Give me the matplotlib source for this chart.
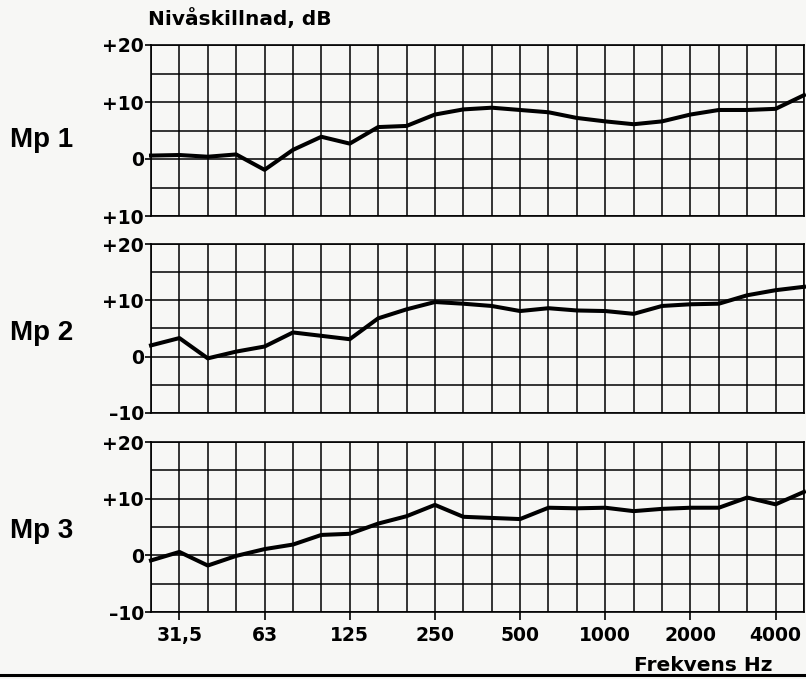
import matplotlib.pyplot as plt
import numpy as np

plt.rcParams['font.family'] = ['DejaVu Sans']
plt.rcParams['font.weight'] = 'bold'

# third-octave bands, 25 Hz .. 5 kHz
freqs = ['25', '31,5', '40', '50', '63', '80', '100', '125', '160', '200', '250', '315',
         '400', '500', '630', '800', '1000', '1250', '1600', '2000', '2500', '3150', '4000', '5000']
tick_labels = ['31,5', '63', '125', '250', '500', '1000', '2000', '4000']

mp1 = [0.6, 0.7, 0.4, 0.8, -1.9, 1.6, 3.9, 2.7, 5.6, 5.8, 7.8, 8.7,
       9.0, 8.6, 8.2, 7.2, 6.6, 6.1, 6.6, 7.8, 8.6, 8.6, 8.8, 11.2]
mp2 = [2.0, 3.3, -0.3, 0.9, 1.8, 4.3, 3.7, 3.1, 6.8, 8.4, 9.7, 9.4,
       9.0, 8.1, 8.6, 8.2, 8.1, 7.6, 9.0, 9.3, 9.4, 10.9, 11.8, 12.4]
mp3 = [-0.9, 0.6, -1.8, -0.1, 1.1, 1.9, 3.6, 3.8, 5.6, 6.9, 8.9, 6.8,
       6.6, 6.4, 8.4, 8.3, 8.4, 7.8, 8.2, 8.4, 8.4, 10.2, 9.0, 11.2]
names = ['Mp 1', 'Mp 2', 'Mp 3']
ylabels = [['+10', '0', '+10', '+20'], ['–10', '0', '+10', '+20'], ['–10', '0', '+10', '+20']]

W, H = 806, 679
bg = '#f7f7f5'
fig = plt.figure(figsize=(W / 100, H / 100), dpi=100)
fig.patch.set_facecolor(bg)

panels = [(45, 216), (244, 413), (442, 612)]  # pixel y of +20 and -10
name_base = [147, 340, 538]
x = np.arange(len(freqs))
for i, (series, (ytop, ybot)) in enumerate(zip([mp1, mp2, mp3], panels)):
    ax = fig.add_axes([151 / W, 1 - ybot / H, (804 - 151) / W, (ybot - ytop) / H])
    ax.set_facecolor(bg)
    ax.set_xlim(0, len(freqs) - 1)
    ax.set_ylim(-10, 20)
    ax.set_xticks(x, minor=True)
    ax.set_yticks(np.arange(-10, 21, 5), minor=True)
    ax.set_yticks([-10, 0, 10, 20])
    ax.set_yticklabels(ylabels[i], fontsize=13.5, fontweight='bold')
    if i == 2:
        ax.set_xticks([freqs.index(t) for t in tick_labels])
        ax.set_xticklabels(tick_labels, fontsize=13.5, fontweight='bold')
        ax.tick_params(axis='x', which='major', length=6, width=1.2, pad=4)
    else:
        ax.set_xticks([])
    ax.tick_params(which='minor', length=0)
    ax.tick_params(axis='y', which='major', length=4.5, width=1.2, pad=0.5)
    ax.grid(which='both', color='black', lw=1.1)
    for s in ax.spines.values():
        s.set_linewidth(1.2)
    ax.plot(x, series, color='black', lw=2.9, solid_joinstyle='round', clip_on=False, zorder=5)
    fig.text(10 / W, 1 - name_base[i] / H, names[i], family='Liberation Sans',
             fontsize=20, fontweight='bold', va='baseline', ha='left')

fig.text(148 / W, 1 - 25 / H, 'Nivåskillnad, dB', fontsize=14.5, fontweight='bold', va='baseline')
fig.text(772 / W, 1 - 671 / H, 'Frekvens Hz', fontsize=14.5, fontweight='bold', va='baseline', ha='right')
fig.add_artist(plt.Line2D([0, 1], [1 - 675 / H, 1 - 675 / H], color='black', lw=2.2))

fig.savefig('out.png', dpi=100, facecolor=fig.get_facecolor())
